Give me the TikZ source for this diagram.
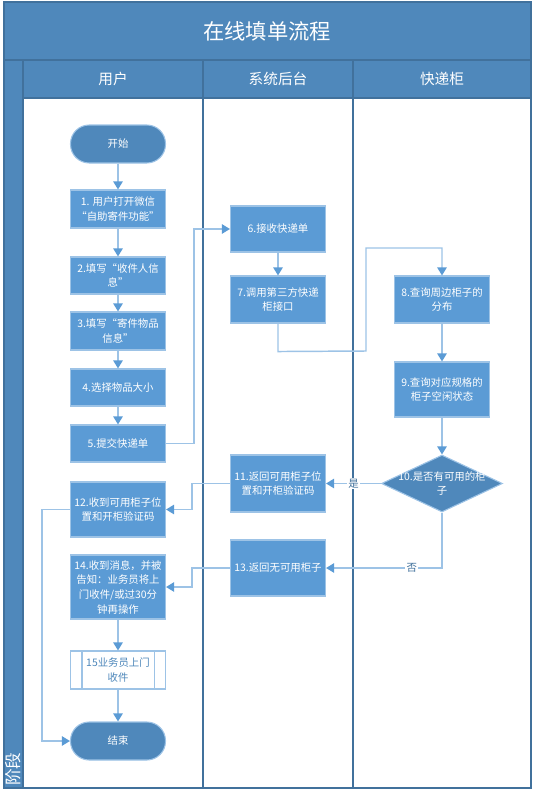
\documentclass[tikz,border=0pt]{standalone}
\usepackage{fontspec}
\setmainfont{Noto Sans CJK SC}
\usetikzlibrary{arrows.meta}
\usetikzlibrary{shapes.geometric}
\definecolor{kaista}{HTML}{4F88BB}
\definecolor{laatikko}{HTML}{5B9BD5}
\definecolor{viiva}{HTML}{9DC3E6}
\definecolor{raja}{HTML}{41719C}
\tikzset{
  vaihe/.style={rectangle,fill=laatikko,draw=viiva,line width=0.8pt,text=white,align=center,
    minimum width=71.25pt,inner sep=1pt,font=\fontsize{7.8}{11}\selectfont},
  paate/.style={rectangle,rounded corners=14pt,fill=kaista,draw=viiva,line width=0.8pt,text=white,
    minimum width=71.25pt,minimum height=28.5pt,font=\fontsize{7.8}{11}\selectfont},
  yhteys/.style={->,color=viiva,line width=1.1pt},
  teksti/.style={fill=white,inner sep=1pt,text=raja,font=\fontsize{7.8}{11}\selectfont}
}
\begin{document}
\begin{tikzpicture}[x=0.75pt,y=-0.75pt,>={Triangle[length=6pt,width=7pt,color=laatikko]}]
\useasboundingbox (0,0) rectangle (536,796);
%kaistat
\fill[color=kaista] (4,2) rectangle (531,60);
\fill[color=kaista] (23,60) rectangle (531,98);
\fill[color=kaista] (4,60) rectangle (23,788);
\draw[color=raja,line width=0.9pt] (4,2) rectangle (531,788);
\draw[color=raja,line width=0.9pt] (4,60) -- (531,60);
\draw[color=raja,line width=0.9pt] (23,98) -- (531,98);
\draw[color=raja,line width=0.9pt] (23,60) -- (23,788);
\foreach \x in {203,353}
{
\draw[color=raja,line width=0.9pt] (\x,60) -- (\x,788);
}
\node[text=white,font=\fontsize{16}{18}\selectfont] (otsikko) at (267,31) {在线填单流程};
\node[text=white,font=\fontsize{11}{13}\selectfont] (k1) at (113,79) {用户};
\node[text=white,font=\fontsize{11}{13}\selectfont] (k2) at (278,79) {系统后台};
\node[text=white,font=\fontsize{11}{13}\selectfont] (k3) at (442,79) {快递柜};
\node[text=white,rotate=90,font=\fontsize{12.5}{14}\selectfont] (vaihe) at (13.5,769) {阶段};

%用户
\node[paate] (alku) at (118,144) {开始};
\node[vaihe,minimum height=28.5pt] (s1) at (118,209) {1. 用户打开微信\\“自助寄件功能”};
\node[vaihe,minimum height=27.75pt] (s2) at (118,275.5) {2.填写“收件人信\\息”};
\node[vaihe,minimum height=28.5pt] (s3) at (118,331) {3.填写“寄件物品\\信息”};
\node[vaihe,minimum height=27.75pt] (s4) at (118,387.5) {4.选择物品大小};
\node[vaihe,minimum height=27.75pt] (s5) at (118,443.5) {5.提交快递单};
\node[vaihe,minimum height=41.25pt] (s12) at (118,509.5) {12.收到可用柜子位\\置和开柜验证码};
\node[vaihe,minimum height=48pt] (s14) at (118,587) {14.收到消息，并被\\告知：业务员将上\\门收件/或过30分\\钟再操作};
\node[vaihe,fill=white,text=kaista,minimum height=28.5pt] (s15) at (118,670) {15业务员上门\\收件};
\draw[color=viiva,line width=0.8pt] ([xshift=9pt]s15.north west) -- ([xshift=9pt]s15.south west);
\draw[color=viiva,line width=0.8pt] ([xshift=-9pt]s15.north east) -- ([xshift=-9pt]s15.south east);
\node[paate] (loppu) at (118,741) {结束};

%系统后台
\node[vaihe,minimum height=34.5pt] (s6) at (278,229) {6.接收快递单};
\node[vaihe,minimum height=35.25pt] (s7) at (278,299.5) {7.调用第三方快递\\柜接口};
\node[vaihe,minimum height=42.75pt] (s11) at (278,483.5) {11.返回可用柜子位\\置和开柜验证码};
\node[vaihe,minimum height=42pt] (s13) at (278,568) {13.返回无可用柜子};

%快递柜
\node[vaihe,minimum height=35.25pt] (s8) at (442,299.5) {8.查询周边柜子的\\分布};
\node[vaihe,minimum height=41.25pt] (s9) at (442,389.5) {9.查询对应规格的\\柜子空闲状态};
\node[diamond,fill=kaista,draw=viiva,line width=0.8pt,minimum width=90.75pt,minimum height=42.75pt,inner sep=0pt,
  label={[text=white,align=center,font=\fontsize{7.8}{11}\selectfont]center:10.是否有可用的柜\\子}] (s10) at (442,483.5) {};

%nuolet
\draw[yhteys] (alku) -- (s1);
\draw[yhteys] (s1) -- (s2);
\draw[yhteys] (s2) -- (s3);
\draw[yhteys] (s3) -- (s4);
\draw[yhteys] (s4) -- (s5);
\draw[yhteys] (s14) -- (s15);
\draw[yhteys] (s15) -- (loppu);
\draw[yhteys] (s5.east) -- ++(28,0) |- (s6.west);
\draw[yhteys] (s6) -- (s7);
\draw[yhteys] (s7.south) -- ++(0,28) -- (366,351) -- (366,248) -| (s8.north);
\draw[yhteys] (s8) -- (s9);
\draw[yhteys] (s9) -- (s10);
\draw[yhteys] (s10.west) -- (s11.east) node[teksti,pos=0.5] {是};
\draw[yhteys] (s10.south) |- (s13.east) node[teksti,pos=0.63] {否};
\draw[yhteys] (s11.west) -- ++(-38,0) |- (s12.east);
\draw[yhteys] (s13.west) -- ++(-38,0) |- (s14.east);
\draw[yhteys] (s12.west) -- ++(-28,0) |- (loppu.west);
\end{tikzpicture}
\end{document}
